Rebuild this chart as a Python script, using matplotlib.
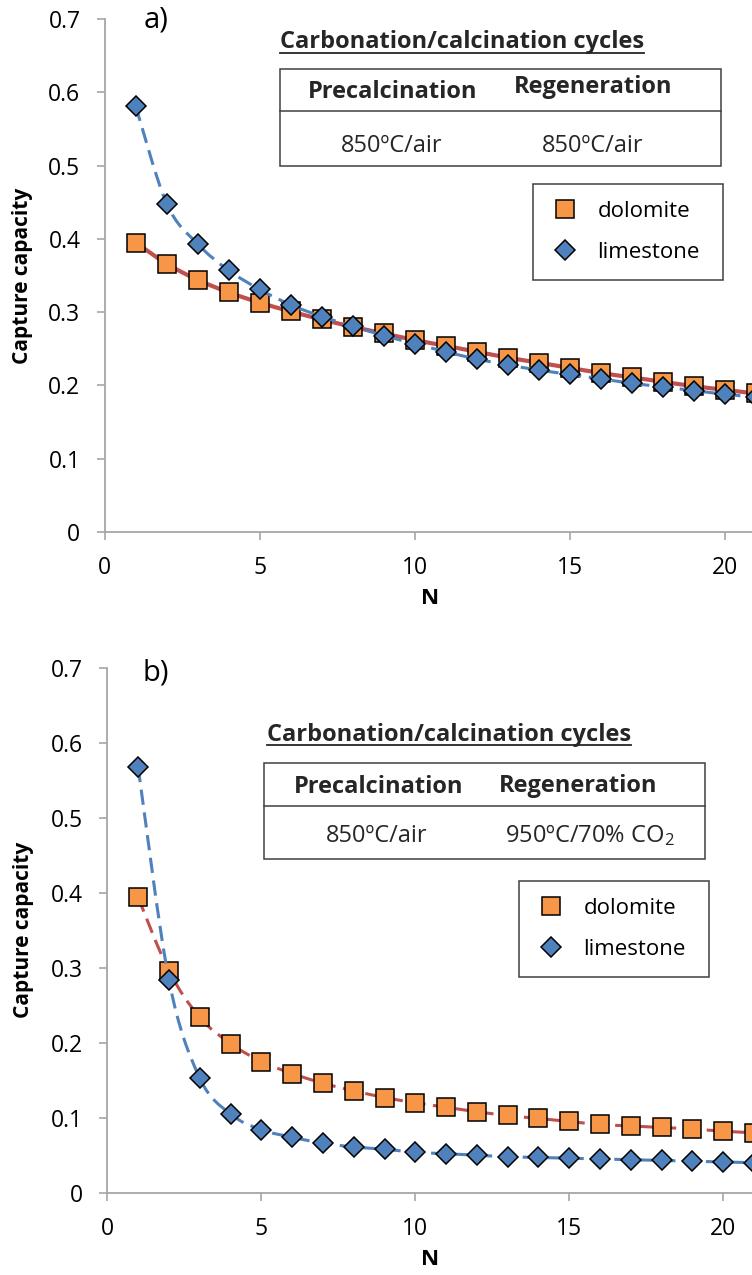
import matplotlib
matplotlib.use("Agg")
import matplotlib.pyplot as plt
from matplotlib.path import Path
from matplotlib.patches import PathPatch, Rectangle
from matplotlib.lines import Line2D

# ---------------- data ----------------
cycles = list(range(1, 22))

dolomite_a = [0.395, 0.366, 0.344, 0.327, 0.313, 0.301, 0.290, 0.280, 0.271, 0.262,
              0.254, 0.246, 0.238, 0.231, 0.224, 0.217, 0.211, 0.205, 0.199, 0.194, 0.189]
limestone_a = [0.581, 0.448, 0.393, 0.357, 0.331, 0.310, 0.294, 0.281, 0.268, 0.257,
               0.246, 0.236, 0.228, 0.221, 0.215, 0.209, 0.203, 0.198, 0.193, 0.188, 0.184]

dolomite_b = [0.394, 0.296, 0.234, 0.199, 0.175, 0.159, 0.146, 0.136, 0.127, 0.120,
              0.114, 0.108, 0.103, 0.099, 0.095, 0.091, 0.089, 0.087, 0.085, 0.082, 0.080]
limestone_b = [0.568, 0.284, 0.153, 0.105, 0.084, 0.074, 0.066, 0.061, 0.058, 0.054,
               0.052, 0.050, 0.048, 0.047, 0.046, 0.045, 0.044, 0.043, 0.042, 0.041, 0.040]

series_labels = ["dolomite", "limestone"]
panel_labels = ["a)", "b)"]
table_title = "Carbonation/calcination cycles"
table_headers = ["Precalcination", "Regeneration"]
table_values_a = ["850ºC/air", "850ºC/air"]
table_values_b = ["850ºC/air", "950ºC/70% CO$_2$"]
yticks = [0, 0.1, 0.2, 0.3, 0.4, 0.5, 0.6, 0.7]
xticks = [0, 5, 10, 15, 20]
xlabel = "N"
ylabel = "Capture capacity"

# ---------------- style ----------------
FONT = "Open Sans"
plt.rcParams["font.family"] = [FONT, "DejaVu Sans"]
plt.rcParams["mathtext.fontset"] = "custom"
plt.rcParams["mathtext.rm"] = FONT
plt.rcParams["mathtext.it"] = FONT + ":italic"
plt.rcParams["mathtext.bf"] = FONT + ":bold"

ORANGE = "#F79646"
BLUE = "#4F81BD"
RED = "#C0504D"
AXGRAY = "#A6A6A6"
BOXGRAY = "#404040"

W, H = 752, 1275
fig = plt.figure(figsize=(W / 100, H / 100), dpi=100)


def fx(px):
    return px / W


def fy(py):
    return 1 - py / H


def smooth_path(x, y):
    verts = [(x[0], y[0])]
    codes = [Path.MOVETO]
    n = len(x)
    for i in range(n - 1):
        x0, y0 = (x[i - 1], y[i - 1]) if i > 0 else (x[i], y[i])
        x3, y3 = (x[i + 2], y[i + 2]) if i + 2 < n else (x[i + 1], y[i + 1])
        c1 = (x[i] + (x[i + 1] - x0) / 6, y[i] + (y[i + 1] - y0) / 6)
        c2 = (x[i + 1] - (x3 - x[i]) / 6, y[i + 1] - (y3 - y[i]) / 6)
        verts += [c1, c2, (x[i + 1], y[i + 1])]
        codes += [Path.CURVE4] * 3
    return Path(verts, codes)


SQ = dict(marker="s", markersize=13.5, markerfacecolor=ORANGE, markeredgecolor="black",
          markeredgewidth=1.1, linestyle="none")
DI = dict(marker="D", markersize=10, markerfacecolor=BLUE, markeredgecolor="black",
          markeredgewidth=1.1, linestyle="none")
DASH = (0, (5.0, 2.5))


def make_panel(ax_px, dol, lim, dol_style, lim_style, label, values,
               title_xy, rect_px, hdr_pos, val_pos, legend_px, label_pos):
    left, top, right, bottom, xmax = ax_px
    ax = fig.add_axes([fx(left), fy(bottom), fx(right) - fx(left), fy(top) - fy(bottom)])
    ax.set_xlim(0, xmax)
    ax.set_ylim(0, 0.7)
    for s in ["top", "right"]:
        ax.spines[s].set_visible(False)
    for s in ["left", "bottom"]:
        ax.spines[s].set_color(AXGRAY)
        ax.spines[s].set_linewidth(1.3)
    ax.set_xticks(xticks)
    ax.set_yticks(yticks)
    ax.set_yticklabels(["%g" % v for v in yticks])
    ax.tick_params(direction="out", length=6, width=1.2, color=AXGRAY,
                   labelsize=16.5, labelcolor="black", pad=11.5)

    ax.add_patch(PathPatch(smooth_path(cycles, dol), fill=False, edgecolor=RED,
                           linewidth=dol_style[0], linestyle=dol_style[1],
                           capstyle="butt", zorder=2, clip_on=False))
    ax.plot(cycles, dol, zorder=3, clip_on=False, **SQ)
    ax.add_patch(PathPatch(smooth_path(cycles, lim), fill=False, edgecolor=BLUE,
                           linewidth=lim_style[0], linestyle=lim_style[1],
                           capstyle="butt", zorder=4, clip_on=False))
    ax.plot(cycles, lim, zorder=5, clip_on=False, **DI)

    # axis labels
    ax_w = right - left
    ax_h = bottom - top
    ax.set_xlabel(xlabel, fontsize=16, fontweight="bold")
    ax.xaxis.label.set_va("center")
    ax.xaxis.set_label_coords((430 - left) / ax_w, -67 / ax_h)
    ax.set_ylabel(ylabel, fontsize=15, fontweight="bold")
    ax.yaxis.label.set_va("center")
    ax.yaxis.set_label_coords((23 - left) / ax_w, 0.5)

    # panel letter
    fig.text(fx(label_pos[0]), fy(label_pos[1]), label, fontsize=21,
             ha="center", va="center")

    # legend
    lx0, ly0, lx1, ly1 = legend_px
    handles = [Line2D([], [], **SQ), Line2D([], [], **DI)]
    leg = ax.legend(handles, series_labels, loc="upper left",
                    bbox_to_anchor=(fx(lx0), fy(ly1), fx(lx1) - fx(lx0), fy(ly0) - fy(ly1)),
                    bbox_transform=fig.transFigure, mode="expand", borderaxespad=0,
                    fontsize=16, frameon=True, fancybox=False, framealpha=1,
                    edgecolor=BOXGRAY, borderpad=0.77, handlelength=1.36,
                    handletextpad=0.77, labelspacing=0.9)
    leg.get_frame().set_linewidth(1.1)

    # condition table
    t = fig.text(fx(title_xy[0]), fy(title_xy[1]), table_title, fontsize=17,
                 fontweight="bold", ha="left", va="baseline", color="#262626")
    fig.canvas.draw()
    bb = t.get_window_extent()
    fig.add_artist(Line2D([bb.x0 / W, bb.x1 / W], [fy(title_xy[1] + 4)] * 2,
                          transform=fig.transFigure, color="#262626", linewidth=1.3))
    rx0, ry0, rx1, ry1, rmid = rect_px
    fig.add_artist(Rectangle((fx(rx0), fy(ry1)), fx(rx1) - fx(rx0), fy(ry0) - fy(ry1),
                             transform=fig.transFigure, fill=False,
                             edgecolor=BOXGRAY, linewidth=1.1))
    fig.add_artist(Line2D([fx(rx0), fx(rx1)], [fy(rmid)] * 2, transform=fig.transFigure,
                          color=BOXGRAY, linewidth=1.1))
    for txt, (px, py) in zip(table_headers, hdr_pos):
        fig.text(fx(px), fy(py), txt, fontsize=17, fontweight="bold",
                 ha="center", va="baseline", color="#262626")
    for txt, (px, py) in zip(values, val_pos):
        fig.text(fx(px), fy(py), txt, fontsize=17, ha="center", va="baseline",
                 color="#262626")
    return ax


make_panel((104.7, 19, 104.7 + 21.5 * 31.0, 532, 21.5),
           dolomite_a, limestone_a,
           (3.0, "-"), (2.2, DASH),
           panel_labels[0], table_values_a,
           (280, 48.5), (280, 69, 721, 166, 111),
           [(393, 98), (593, 93)], [(392, 151.5), (593, 151.5)],
           (533, 184, 723, 274), (156, 20))

make_panel((107.3, 668, 107.3 + 21.5 * 30.8, 1192.7, 21.5),
           dolomite_b, limestone_b,
           (2.2, DASH), (2.2, DASH),
           panel_labels[1], table_values_b,
           (267, 741), (264, 763, 705, 859, 806),
           [(379, 793), (578, 792)], [(377, 842), (590, 842)],
           (519, 881, 709, 972), (156, 673))

fig.savefig("out.png", dpi=100)
